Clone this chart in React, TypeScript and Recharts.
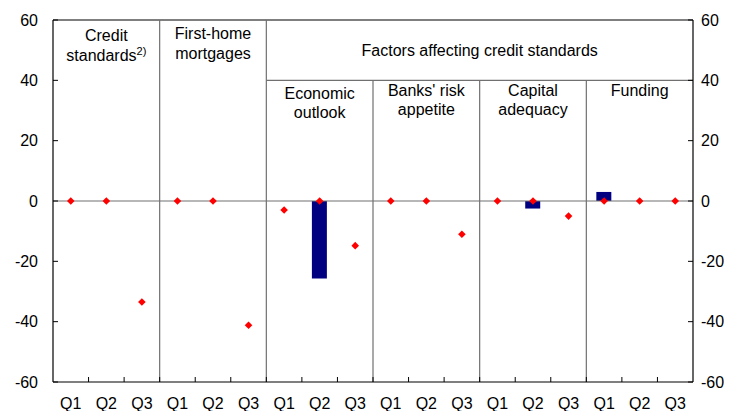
import React from 'react';
import {
  ComposedChart,
  Bar,
  Line,
  XAxis,
  YAxis,
  ReferenceLine,
  ReferenceArea,
} from 'recharts';

// ---- data ----
const quarters = ['Q1', 'Q2', 'Q3', 'Q1', 'Q2', 'Q3', 'Q1', 'Q2', 'Q3', 'Q1', 'Q2', 'Q3', 'Q1', 'Q2', 'Q3', 'Q1', 'Q2', 'Q3'];
const barValues: (number | null)[] = [null, null, null, null, null, null, null, -25.7, null, null, null, null, null, -2.5, null, 3, null, null];
const dotValues = [0, 0, -33.5, 0, 0, -41.2, -3, 0, -14.8, 0, 0, -11, 0, 0, -5, 0, 0, 0];
const yTicks = [-60, -40, -20, 0, 20, 40, 60];

const topPanels = [
  { from: 0, to: 3, lines: ['Credit', 'standards'], sup: '2)' },
  { from: 3, to: 6, lines: ['First-home', 'mortgages'], sup: '' },
];
const factorsPanel = { from: 6, to: 18, lines: ['Factors affecting credit standards'] };
const subPanels = [
  { from: 6, to: 9, lines: ['Economic', 'outlook'] },
  { from: 9, to: 12, lines: ["Banks' risk", 'appetite'] },
  { from: 12, to: 15, lines: ['Capital', 'adequacy'] },
  { from: 15, to: 18, lines: ['Funding'] },
];

const data = quarters.map((q, i) => ({
  x: i + 0.5,
  label: q,
  bar: barValues[i],
  dot: dotValues[i],
}));

const xTicks: number[] = [];
for (let i = 0; i < quarters.length; i++) {
  xTicks.push(i + 0.5);
  if (i + 1 < quarters.length) xTicks.push(i + 1);
}

const FONT = '"Liberation Sans", Arial, sans-serif';
const SEP = '#707070';

const XTick = (props: any) => {
  const { x, y, payload } = props;
  const v = payload.value;
  if (Number.isInteger(v)) {
    return <line x1={x} x2={x} y1={y} y2={y - 5} stroke="#000" strokeWidth={1} />;
  }
  const idx = Math.floor(v);
  return (
    <text x={x} y={y + 27} textAnchor="middle" fontSize={16} fontFamily={FONT} fill="#000">
      {quarters[idx]}
    </text>
  );
};

const HeaderLabel = (props: any) => {
  const { viewBox, lines, sup, first, gap } = props;
  if (!viewBox) return null;
  const cx = viewBox.x + viewBox.width / 2;
  return (
    <text textAnchor="middle" fontSize={16} fontFamily={FONT} fill="#000">
      {lines.map((l: string, i: number) => (
        <tspan key={i} x={cx} y={viewBox.y + first + i * gap}>
          {l}
          {sup && i === lines.length - 1 ? (
            <tspan fontSize={11} dy={-6}>{sup}</tspan>
          ) : null}
        </tspan>
      ))}
    </text>
  );
};

const Diamond = (props: any) => {
  const { cx, cy } = props;
  if (cx == null || cy == null) return null;
  const r = 3.8;
  return (
    <polygon
      points={`${cx},${cy - r} ${cx + r},${cy} ${cx},${cy + r} ${cx - r},${cy}`}
      fill="#ff0000"
      stroke="none"
    />
  );
};

export default function App() {
  return (
    <div style={{ position: 'absolute', left: 0, top: 0, width: 736, height: 411, background: '#fff' }}>
      <ComposedChart
        width={736}
        height={411}
        data={data}
        margin={{ top: 20, right: 0, bottom: 0, left: 0 }}
      >
        <XAxis
          xAxisId="x"
          type="number"
          dataKey="x"
          domain={[0, 18]}
          ticks={xTicks}
          interval={0}
          tickLine={false}
          tickSize={0}
          tickMargin={0}
          tick={<XTick />}
          axisLine={{ stroke: '#000', strokeWidth: 1.2 }}
          height={29}
          allowDataOverflow
        />
        <YAxis
          yAxisId="l"
          orientation="left"
          domain={[-60, 60]}
          ticks={yTicks}
          interval={0}
          width={53}
          tickSize={-5}
          tickMargin={20}
          tickLine={{ stroke: '#000' }}
          axisLine={{ stroke: '#000', strokeWidth: 1.2 }}
          tick={{ fontSize: 16, fontFamily: FONT, fill: '#000' }}
          allowDataOverflow
        />
        <YAxis
          yAxisId="r"
          orientation="right"
          domain={[-60, 60]}
          ticks={yTicks}
          interval={0}
          width={43}
          tickSize={-5}
          tickMargin={13}
          tickLine={{ stroke: '#000' }}
          axisLine={{ stroke: '#000', strokeWidth: 1.2 }}
          tick={{ fontSize: 16, fontFamily: FONT, fill: '#000' }}
          allowDataOverflow
        />

        <ReferenceLine xAxisId="x" yAxisId="l" y={0} stroke={SEP} strokeWidth={1.2} />
        <ReferenceLine xAxisId="x" yAxisId="l" y={60} stroke="#000" strokeWidth={1.2} />
        <ReferenceLine
          xAxisId="x"
          yAxisId="l"
          segment={[{ x: factorsPanel.from, y: 40 }, { x: factorsPanel.to, y: 40 }]}
          stroke={SEP}
          strokeWidth={1.2}
        />
        {topPanels.map((p, i) => (
          <ReferenceLine
            key={`tp${i}`}
            xAxisId="x"
            yAxisId="l"
            segment={[{ x: p.to, y: 60 }, { x: p.to, y: -60 }]}
            stroke={SEP}
            strokeWidth={1.2}
          />
        ))}
        {subPanels.slice(0, -1).map((p, i) => (
          <ReferenceLine
            key={`sp${i}`}
            xAxisId="x"
            yAxisId="l"
            segment={[{ x: p.to, y: 40 }, { x: p.to, y: -60 }]}
            stroke={SEP}
            strokeWidth={1.2}
          />
        ))}

        {topPanels.map((p, i) => (
          <ReferenceArea
            key={`ta${i}`}
            xAxisId="x"
            yAxisId="l"
            x1={p.from}
            x2={p.to}
            y1={40}
            y2={60}
            fill="none"
            fillOpacity={0}
            stroke="none"
            label={<HeaderLabel lines={p.lines} sup={p.sup} first={i === 0 ? 21 : 19} gap={20} />}
          />
        ))}
        <ReferenceArea
          xAxisId="x"
          yAxisId="l"
          x1={factorsPanel.from}
          x2={factorsPanel.to}
          y1={40}
          y2={60}
          fill="none"
          fillOpacity={0}
          stroke="none"
          label={<HeaderLabel lines={factorsPanel.lines} sup="" first={36} gap={20} />}
        />
        {subPanels.map((p, i) => (
          <ReferenceArea
            key={`sa${i}`}
            xAxisId="x"
            yAxisId="l"
            x1={p.from}
            x2={p.to}
            y1={20}
            y2={40}
            fill="none"
            fillOpacity={0}
            stroke="none"
            label={<HeaderLabel lines={p.lines} sup="" first={i === 0 ? 19 : 16} gap={19} />}
          />
        ))}

        <Bar
          xAxisId="x"
          yAxisId="l"
          dataKey="bar"
          fill="#000080"
          barSize={15}
          isAnimationActive={false}
        />
        <Line
          xAxisId="x"
          yAxisId="l"
          dataKey="dot"
          stroke="none"
          dot={<Diamond />}
          activeDot={false}
          isAnimationActive={false}
        />
      </ComposedChart>
    </div>
  );
}
